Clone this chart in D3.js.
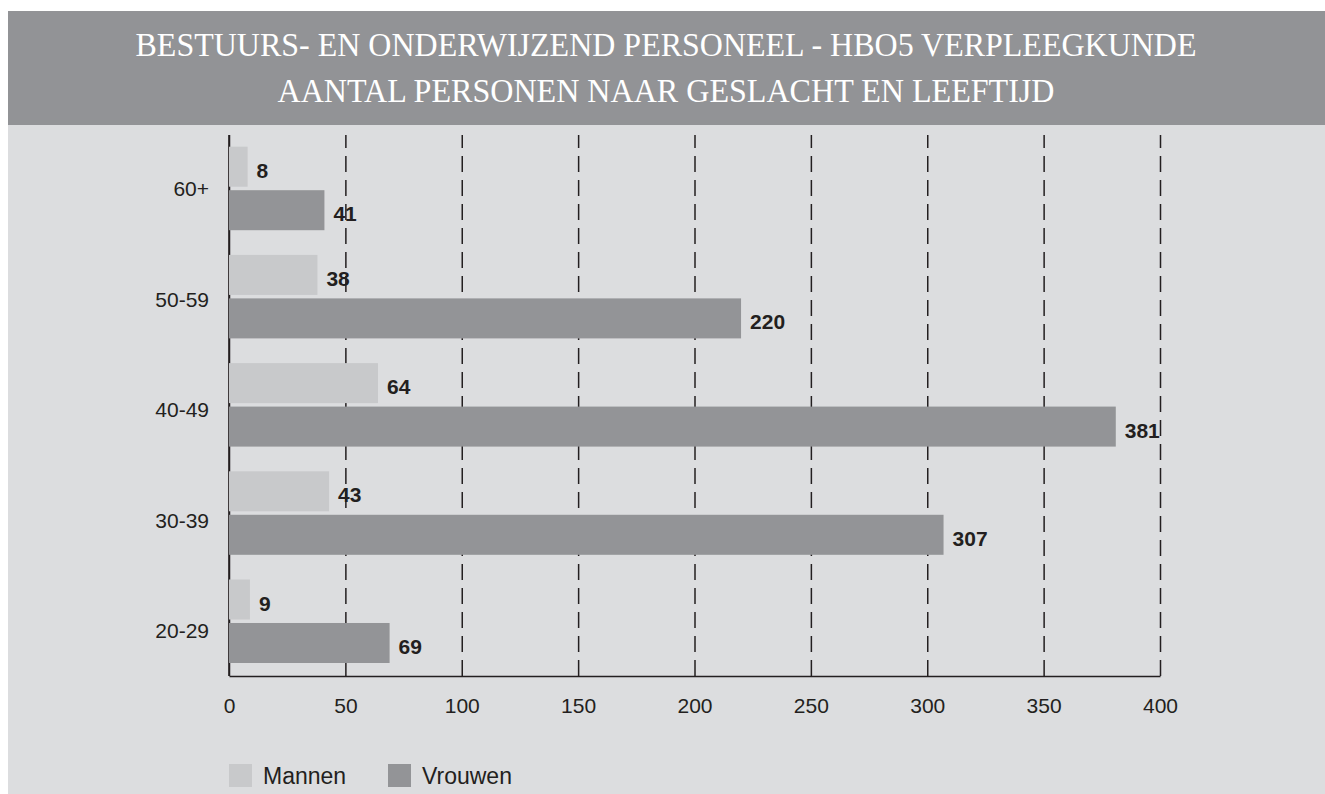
<!DOCTYPE html>
<html>
<head>
<meta charset="utf-8">
<script src="https://cdn.jsdelivr.net/npm/d3@7"></script>
<style>
  body { margin: 0; background: #fff; }
  svg { display: block; }
</style>
</head>
<body>
<div id="chart"></div>
<script>
// data
var categories = ["60+", "50-59", "40-49", "30-39", "20-29"];
var series = ["Mannen", "Vrouwen"];
var mannen = [8, 38, 64, 43, 9];
var vrouwen = [41, 220, 381, 307, 69];
var xTicks = [0, 50, 100, 150, 200, 250, 300, 350, 400];
var titleLines = [
  "BESTUURS- EN ONDERWIJZEND PERSONEEL - HBO5 VERPLEEGKUNDE",
  "AANTAL PERSONEN NAAR GESLACHT EN LEEFTIJD"
];

var W = 1325, H = 794;
var colors = { Mannen: "#c8c9cb", Vrouwen: "#939497" };
var ink = "#231f20";

var svg = d3.select("#chart").append("svg")
  .attr("width", W)
  .attr("height", H);

// backgrounds
svg.append("rect")
  .attr("x", 8).attr("y", 125)
  .attr("width", W - 8).attr("height", H - 125)
  .attr("fill", "#dcdddf");
svg.append("rect")
  .attr("x", 8).attr("y", 11)
  .attr("width", W - 8).attr("height", 114)
  .attr("fill", "#929396");

// title
var titleWidths = [1061, 777];
svg.selectAll("text.title")
  .data(titleLines)
  .enter()
  .append("text")
  .attr("class", "title")
  .attr("x", 666)
  .attr("y", (d, i) => 56 + i * 46)
  .attr("text-anchor", "middle")
  .attr("textLength", (d, i) => titleWidths[i])
  .attr("lengthAdjust", "spacingAndGlyphs")
  .attr("fill", "#fff")
  .attr("font-family", "'Liberation Serif', 'Times New Roman', serif")
  .attr("font-size", 34)
  .text(d => d);

// scales
var plotTop = 135, plotBottom = 676, plotLeft = 229, plotRight = 1160;
var x = d3.scaleLinear().domain([0, 400]).range([plotLeft, plotRight]);
var y0 = d3.scaleBand().domain(categories).range([plotTop, plotBottom]);
var y1 = d3.scaleBand().domain(series).range([11.7, 95.2]).paddingInner(0.08);
var yLabel = d3.scalePoint().domain(categories).range([189, 631]);

// x axis with dashed grid
var xAxis = svg.append("g")
  .attr("transform", "translate(0," + plotBottom + ")")
  .call(d3.axisBottom(x)
    .tickValues(xTicks)
    .tickSizeInner(-(plotBottom - plotTop))
    .tickSizeOuter(0)
    .tickPadding(22));

xAxis.select(".domain")
  .attr("stroke", ink)
  .attr("stroke-width", 1.6);
xAxis.selectAll(".tick line")
  .attr("stroke", ink)
  .attr("stroke-width", 1.5)
  .attr("stroke-dasharray", d => d === 0 ? null : "16,8");
xAxis.selectAll(".tick text")
  .attr("fill", ink)
  .attr("font-family", "'Liberation Sans', Arial, sans-serif")
  .attr("font-size", 21);

// y axis line
svg.append("line")
  .attr("x1", x(0)).attr("x2", x(0))
  .attr("y1", y0.range()[0]).attr("y2", y0.range()[1])
  .attr("stroke", ink)
  .attr("stroke-width", 1.6);

// category labels
var yAxis = svg.append("g")
  .attr("transform", "translate(" + plotLeft + ",0)")
  .call(d3.axisLeft(yLabel).tickSize(0).tickPadding(20));
yAxis.select(".domain").remove();
yAxis.selectAll(".tick text")
  .attr("fill", ink)
  .attr("font-family", "'Liberation Sans', Arial, sans-serif")
  .attr("font-size", 21);

// bars
var rows = categories.map((c, i) => ({
  cat: c,
  values: [
    { key: "Mannen", value: mannen[i] },
    { key: "Vrouwen", value: vrouwen[i] }
  ]
}));

var groups = svg.selectAll("g.group")
  .data(rows)
  .enter()
  .append("g")
  .attr("class", "group")
  .attr("transform", d => "translate(0," + y0(d.cat) + ")");

groups.selectAll("rect")
  .data(d => d.values)
  .enter()
  .append("rect")
  .attr("x", x(0))
  .attr("y", d => y1(d.key))
  .attr("width", d => x(d.value) - x(0))
  .attr("height", y1.bandwidth())
  .attr("fill", d => colors[d.key]);

groups.selectAll("text")
  .data(d => d.values)
  .enter()
  .append("text")
  .attr("x", d => x(d.value) + 9)
  .attr("y", d => y1(d.key) + y1.bandwidth() / 2 + 11)
  .attr("fill", ink)
  .attr("font-family", "'Liberation Sans', Arial, sans-serif")
  .attr("font-weight", "bold")
  .attr("font-size", 21)
  .text(d => d.value);

// legend
var legendX = [229, 388];
var legend = svg.selectAll("g.legend")
  .data(series)
  .enter()
  .append("g")
  .attr("class", "legend")
  .attr("transform", (d, i) => "translate(" + legendX[i] + ",764)");

legend.append("rect")
  .attr("width", 23)
  .attr("height", 23)
  .attr("fill", d => colors[d]);

legend.append("text")
  .attr("x", 34)
  .attr("y", 20)
  .attr("fill", ink)
  .attr("font-family", "'Liberation Sans', Arial, sans-serif")
  .attr("font-size", 23)
  .text(d => d);
</script>
</body>
</html>
